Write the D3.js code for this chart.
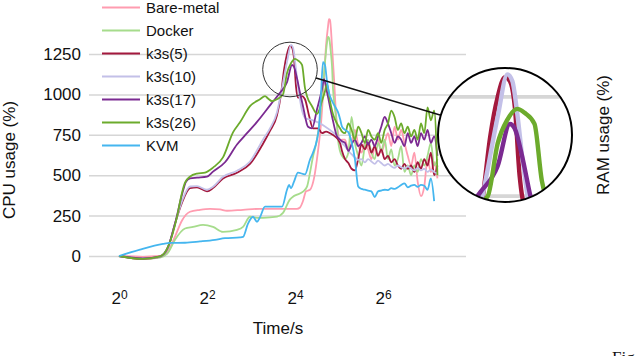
<!DOCTYPE html>
<html>
<head>
<meta charset="utf-8">
<script src="https://cdn.jsdelivr.net/npm/d3@7"></script>
<style>
    body { margin: 0; background: #fff; }
    svg { display: block; font-family: "Liberation Sans", Arial, sans-serif; }
</style>
</head>
<body>
<svg id="vis" width="640" height="356"></svg>
<script>
// series names and colours (legend order)
var names = ["Bare-metal", "Docker", "k3s(5)", "k3s(10)", "k3s(17)", "k3s(26)", "KVM"];
var colors = ["#ff9cb0", "#a6dc8c", "#a3183d", "#c3c0e8", "#7b2a91", "#6cab2c", "#45b6ef"];

var yTicks = [0, 250, 500, 750, 1000, 1250];
var xTicks = [1, 4, 16, 64];

// first part of each run: [time (s), CPU usage (%)]
var bareMetalHead = [[1, 0], [1.459, -5], [1.908, 0], [2.13, 20], [2.416, 120], [2.698, 220], [3.06, 274], [3.583, 286],
    [4.194, 292], [4.909, 288], [5.481, 280], [7.053, 286], [9.219, 292], [12.05, 292], [16.51, 292], [17.31, 300],
    [18.15, 340], [19.03, 400], [20.27, 410], [21.58, 480], [22.99, 650], [24.1, 820], [25.27, 1095], [26.08, 1300],
    [26.91, 1420], [27.34, 1465], [27.77, 1460], [28.66, 1300], [29.58, 1100], [30.52, 880], [31.5, 760], [32.51, 700], [33.55, 720]];
var dockerHead = [[1, 0], [1.459, -18], [1.908, -10], [2.164, 20], [2.416, 100], [2.828, 170], [3.209, 180], [3.756, 193],
    [4.397, 180], [5.146, 149], [6.417, 162], [7.053, 180], [7.874, 243], [8.794, 236], [9.665, 236], [12.05, 243],
    [13.24, 267], [14.79, 350], [15.5, 367], [16.51, 380], [18.15, 398], [19.33, 429], [20.27, 516], [21.25, 616],
    [22.63, 721], [23.72, 850], [24.87, 1050], [25.67, 1200], [26.49, 1320], [26.91, 1356], [27.34, 1350], [28.21, 1250],
    [28.66, 1176], [29.12, 1033], [30.05, 908], [31.01, 802], [31.5, 721], [32.51, 650], [33.55, 620]];
var k3s5Head = [[1, 0], [1.459, -18], [1.908, -5], [2.164, 50], [2.416, 200], [2.698, 330], [3.06, 420], [3.418, 425],
    [4, 400], [4.397, 420], [5.146, 480], [6.417, 515], [7.874, 570], [9.665, 695], [10.79, 775], [12.05, 870],
    [12.83, 1000], [13.45, 1150], [14.11, 1250], [14.79, 1300], [15.26, 1290], [15.75, 1225], [16.25, 1050], [16.77, 980],
    [17.87, 989], [18.73, 970], [19.95, 870], [21.25, 790], [22.99, 790], [24.48, 760], [26.08, 770], [27.77, 760],
    [30.05, 740], [32.51, 700], [33.55, 650]];
var k3s10Head = [[1, 0], [1.459, -15], [1.908, -5], [2.164, 50], [2.416, 200], [2.698, 340], [3.06, 430], [3.418, 432],
    [4, 410], [4.397, 428], [5.146, 490], [6.417, 528], [7.874, 585], [9.665, 720], [10.79, 790], [12.05, 890],
    [12.83, 1005], [14.11, 1200], [15.02, 1307], [15.5, 1290], [16, 1208], [16.51, 1100], [17.04, 1008], [17.87, 900],
    [19.03, 850], [20.27, 846], [22.99, 827], [25.67, 802], [29.12, 765], [32.51, 721], [33.55, 700]];
var k3s17Head = [[1, 0], [1.459, -15], [1.908, -3], [2.164, 56], [2.416, 200], [2.698, 380], [2.873, 460], [3.06, 480],
    [3.418, 485], [4, 491], [4.397, 522], [5.311, 580], [6.417, 690], [7.51, 760], [8.794, 830], [10.96, 940],
    [12.63, 1010], [14.11, 1076], [15.26, 1182], [15.75, 1170], [16.51, 1100], [17.31, 1010], [18.15, 927], [19.64, 800],
    [20.92, 790], [22.63, 908], [24.48, 1033], [25.27, 1095], [26.49, 1014], [28.66, 865], [31.01, 740], [32.51, 720], [33.55, 710]];
var k3s26Head = [[1, 0], [1.459, -18], [1.908, -3], [2.164, 56], [2.494, 243], [2.698, 392], [2.828, 454], [3.06, 491],
    [3.418, 510], [3.876, 516], [4.397, 547], [5.146, 610], [6.025, 765], [6.727, 827], [7.874, 927], [9.219, 970],
    [9.975, 989], [10.46, 975], [11.14, 958], [12.05, 970], [13.24, 1000], [14.11, 1133], [15.02, 1193], [16, 1220],
    [16.77, 1210], [17.87, 1182], [18.73, 1039], [19.33, 989], [20.92, 927], [22.63, 880], [24.48, 960], [25.67, 1020],
    [26.49, 1064], [27.77, 958], [29.12, 877], [31.01, 820], [32.51, 790], [33.55, 770]];
var kvmHead = [[1, 0], [1.392, 40], [2, 75], [2.233, 81], [2.828, 82], [3.583, 90], [4.537, 100], [5.311, 110],
    [6.727, 115], [7.053, 118], [7.631, 200], [8.256, 243], [8.794, 212], [9.219, 240], [9.975, 305], [13.04, 305],
    [14.11, 410], [14.56, 440], [15.02, 420], [15.75, 460], [16.77, 516], [18.73, 505], [20.27, 597], [21.25, 640],
    [22.63, 721], [23.35, 800], [24.1, 1000], [24.87, 1200], [25.67, 1180], [26.49, 1080], [27.34, 1010], [28.66, 960],
    [30.05, 925], [31.5, 890], [32.51, 850], [33.55, 800]];

// noisy second part, sampled on a shared time grid (s)
var tailTime = [35.2, 37.1, 39.0, 41.1, 43.3, 45.6, 48.1, 50.6, 53.3, 56.2, 59.2, 62.3, 65.7, 69.2, 72.9, 76.8,
    80.9, 85.2, 89.7, 94.5, 99.6, 104.9, 110.5, 116.4, 122.6, 129.1, 136.0, 143.3, 150.9];
var bareMetalTail = [720, 650, 700, 780, 690, 640, 700, 660, 600, 680, 720, 640, 700, 760, 680, 800, 720, 780, 700,
    620, 560, 640, 460, 370, 430, 600, 520, 580, 480];
var dockerTail = [600, 640, 860, 700, 620, 560, 680, 720, 640, 600, 700, 650, 720, 600, 660, 560, 600, 680, 520, 560,
    500, 560, 520, 600, 560, 620, 700, 560, 600];
var k3s5Tail = [600, 575, 540, 530, 600, 690, 660, 700, 640, 680, 620, 660, 600, 620, 580, 600, 560, 540, 570, 540,
    560, 520, 580, 540, 600, 560, 640, 500, 560];
var k3s10Tail = [680, 650, 630, 610, 595, 600, 580, 600, 585, 570, 590, 575, 560, 570, 555, 545, 560, 550, 540, 555,
    540, 530, 545, 530, 540, 520, 535, 520, 510];
var k3s17Tail = [700, 650, 690, 720, 680, 700, 740, 690, 720, 680, 740, 800, 860, 820, 760, 700, 740, 720, 680, 760,
    700, 740, 680, 760, 720, 780, 700, 740, 620];
var k3s26Tail = [760, 820, 780, 720, 800, 760, 700, 780, 740, 720, 760, 700, 780, 820, 900, 860, 780, 820, 760, 800,
    740, 780, 720, 820, 760, 920, 840, 900, 500];
var kvmTail = [780, 765, 705, 600, 430, 415, 410, 405, 400, 365, 400, 405, 410, 408, 420, 415, 425, 440, 450, 425,
    435, 440, 428, 440, 435, 410, 480, 340];

var heads = [bareMetalHead, dockerHead, k3s5Head, k3s10Head, k3s17Head, k3s26Head, kvmHead];
var tails = [bareMetalTail, dockerTail, k3s5Tail, k3s10Tail, k3s17Tail, k3s26Tail, kvmTail];

var series = names.map(function (n, i) {
    var pts = heads[i].concat(tails[i].map(function (v, j) { return [tailTime[j], v]; }));
    return { name: n, color: colors[i], values: pts };
});

var gridLeft = 89, gridRight = 466;

var x = d3.scaleLog().base(2).domain([1, 64]).range([119, 383]);
var y = d3.scaleLinear().domain([0, 1250]).range([256, 54]);

var line = d3.line()
    .x(function (d) { return x(d[0]); })
    .y(function (d) { return y(d[1]); })
    .curve(d3.curveMonotoneX);

var svg = d3.select("#vis");

// y axis + gridlines
var yAxis = svg.append("g")
    .attr("transform", "translate(" + gridLeft + ",0)")
    .call(d3.axisLeft(y).tickValues(yTicks).tickFormat(d3.format("d"))
        .tickSize(-(gridRight - gridLeft)).tickPadding(8));
yAxis.select(".domain").remove();
yAxis.selectAll("line").attr("stroke", "#d6d6d6").attr("stroke-width", 1.5);
yAxis.selectAll("text").attr("font-size", 17).attr("fill", "#111")
    .attr("font-family", "Liberation Sans, Arial, sans-serif");

// x axis labels 2^n
var xAxis = svg.append("g")
    .attr("transform", "translate(0,256)")
    .call(d3.axisBottom(x).tickValues(xTicks).tickSize(0).tickPadding(36));
xAxis.select(".domain").remove();
xAxis.selectAll("text")
    .attr("font-size", 17).attr("fill", "#111")
    .attr("font-family", "Liberation Sans, Arial, sans-serif")
    .each(function (d) {
        var t = d3.select(this).text("");
        t.append("tspan").text("2");
        t.append("tspan").attr("font-size", 12).attr("dy", "-0.45em").text(Math.round(Math.log2(d)));
    });

// axis titles
svg.append("text")
    .attr("transform", "translate(15,160) rotate(-90)")
    .attr("text-anchor", "middle").attr("font-size", 17).attr("fill", "#111")
    .text("CPU usage (%)");
svg.append("text")
    .attr("x", 278).attr("y", 334)
    .attr("text-anchor", "middle").attr("font-size", 17).attr("fill", "#111")
    .text("Time/s");
svg.append("text")
    .attr("transform", "translate(609,135) rotate(-90)")
    .attr("text-anchor", "middle").attr("font-size", 17).attr("fill", "#111")
    .text("RAM usage (%)");
svg.append("text")
    .attr("x", 612).attr("y", 363)
    .attr("font-family", "Liberation Serif, serif").attr("font-size", 17).attr("fill", "#111")
    .text("Fig");

// data lines
function drawLines(g, w) {
    g.selectAll(".serie")
        .data(series)
        .enter().append("path")
        .attr("class", "serie")
        .attr("fill", "none")
        .attr("stroke", function (d) { return d.color; })
        .attr("stroke-width", w)
        .attr("stroke-linejoin", "round")
        .attr("d", function (d) { return line(d.values); });
}
drawLines(svg.append("g"), 1.8);

// legend
var legend = svg.selectAll(".legend")
    .data(series)
    .enter().append("g")
    .attr("class", "legend")
    .attr("transform", function (d, i) { return "translate(0," + (7.5 + i * 23) + ")"; });
legend.append("line")
    .attr("x1", 102).attr("x2", 140)
    .attr("stroke", function (d) { return d.color; })
    .attr("stroke-width", 2.2);
legend.append("text")
    .attr("x", 146).attr("dy", "0.36em")
    .attr("font-size", 15).attr("fill", "#111")
    .text(function (d) { return d.name; });

// magnifier
var small = { cx: 290, cy: 69.5, r: 27.3 };
var big = { cx: 505, cy: 135, r: 67 };
var k = big.r / small.r;

svg.append("circle")
    .attr("cx", small.cx).attr("cy", small.cy).attr("r", small.r)
    .attr("fill", "none").attr("stroke", "#333").attr("stroke-width", 1);
svg.append("line")
    .attr("x1", 316).attr("y1", 78).attr("x2", 440).attr("y2", 115)
    .attr("stroke", "#111").attr("stroke-width", 1.4);

svg.append("clipPath").attr("id", "lens")
    .append("circle").attr("cx", big.cx).attr("cy", big.cy).attr("r", big.r);
svg.append("circle")
    .attr("cx", big.cx).attr("cy", big.cy).attr("r", big.r).attr("fill", "#fff");
var zoomG = svg.append("g").attr("clip-path", "url(#lens)")
    .append("g")
    .attr("transform", "translate(" + big.cx + "," + big.cy + ") scale(" + k + ") translate(" + (-small.cx) + "," + (-small.cy) + ")");
zoomG.selectAll(".grid")
    .data(yTicks)
    .enter().append("line")
    .attr("x1", gridLeft).attr("x2", gridRight)
    .attr("y1", function (d) { return y(d); }).attr("y2", function (d) { return y(d); })
    .attr("stroke", "#d6d6d6").attr("stroke-width", 1.5);
drawLines(zoomG, 1.8);
svg.append("circle")
    .attr("cx", big.cx).attr("cy", big.cy).attr("r", big.r)
    .attr("fill", "none").attr("stroke", "#000").attr("stroke-width", 2);
</script>
</body>
</html>
